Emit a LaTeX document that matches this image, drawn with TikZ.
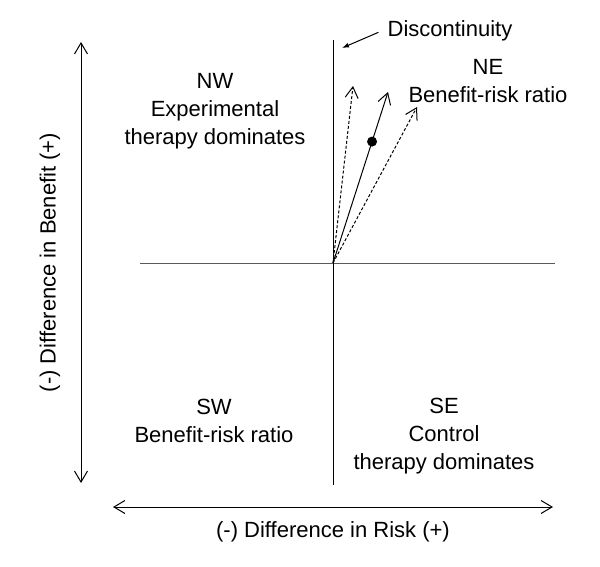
\documentclass[tikz,border=0pt]{standalone}
\usepackage{fontspec}
\setmainfont{Liberation Sans}
\usetikzlibrary{arrows.meta, positioning}
\definecolor{axisgray}{RGB}{90, 90, 90}

\tikzset{
  label text/.style={font=\fontsize{22}{28}\selectfont, align=center, inner sep=0pt},
  axis arrow/.style={{Straight Barb[length=11pt,width=13pt]}-{Straight Barb[length=11pt,width=13pt]}, line width=1pt},
  ratio arrow/.style={-{Straight Barb[length=11pt,width=13pt]}, line width=1pt},
}

\begin{document}
\begin{tikzpicture}[x=1pt, y=-1pt]
\useasboundingbox (0,0) rectangle (600,567);
% quadrant axes
\coordinate (o) at (333,263);
\coordinate (ytop) at (333,40);
\coordinate (ybot) at (333,485);
\coordinate (xleft) at (140,263);
\coordinate (xright) at (555,263);
\draw[line width=1pt, axisgray] (xleft) -- (xright);
\draw[line width=1pt] (ytop) -- (ybot);

% outer axes
\coordinate (bup) at (81,42);
\coordinate (bdown) at (81,483);
\coordinate (rleft) at (113,507);
\coordinate (rright) at (553,507);
\draw[axis arrow] (bdown) -- (bup);
\draw[axis arrow] (rleft) -- (rright);
\node[label text, rotate=90, anchor=base] (benefit) at (55.5,262.5) {(-) Difference in Benefit (+)};
\node[label text, anchor=base] (risk) at (333,537) {(-) Difference in Risk (+)};

% quadrant labels
\node[label text] (nw) at (215,111) {NW\\Experimental\\therapy dominates};
\node[label text] (ne) at (488,80.6) {NE\\Benefit-risk ratio};
\node[label text] (sw) at (214,420.5) {SW\\Benefit-risk ratio};
\node[label text] (se) at (444,436) {SE\\Control\\therapy dominates};

% benefit-risk ratio with interval
\coordinate (lo) at (353,86);
\coordinate (est) at (388,92);
\coordinate (hi) at (417,107);
\draw[ratio arrow, dash pattern=on 3pt off 2pt] (o) -- (lo);
\draw[ratio arrow, dash pattern=on 3pt off 2pt] (o) -- (hi);
\draw[ratio arrow] (o) -- (est) node[pos=0.71, circle, fill, inner sep=0pt, minimum size=10pt] (dot) {};

% discontinuity note
\node[label text, anchor=base] (disc) at (450,37) {Discontinuity};
\coordinate (gap) at (342,48);
\draw[-{Latex[length=7pt,width=5pt]}, line width=1pt] (disc.west) ++(-9,1) coordinate (discstart) (discstart) -- (gap);
\end{tikzpicture}
\end{document}
